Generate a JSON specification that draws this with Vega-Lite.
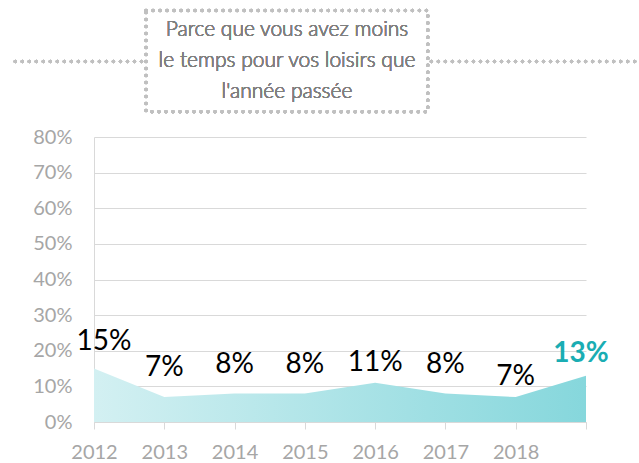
{
  "$schema": "https://vega.github.io/schema/vega-lite/v6.json",
  "autosize": "none",
  "width": 492,
  "height": 285,
  "padding": {"left": 94, "top": 137, "right": 53, "bottom": 41},
  "background": "white",
  "config": {
    "view": {"stroke": null},
    "font": "Lato",
    "axisX": {"tickCount": 7, "format": "d", "title": null, "grid": false,
      "labelExpr": "datum.value == 2019 ? '' : datum.label",
      "labelFlush": false, "labelOverlap": false,
      "labelFont": "Lato", "labelFontSize": 20, "labelColor": "#a6a6a6", "labelPadding": 13,
      "tickColor": "#d9d9d9", "tickSize": 7, "domainColor": "#d9d9d9"},
    "axisY": {"tickCount": 8, "format": ".0%", "title": null, "ticks": false,
      "gridColor": "#d9d9d9", "domainColor": "#d9d9d9", "labelOverlap": false,
      "labelFont": "Lato", "labelFontSize": 20, "labelColor": "#a6a6a6", "labelPadding": 22}
  },
  "data": {"values": [
    {"year": 2012, "value": 0.15},
    {"year": 2013, "value": 0.07},
    {"year": 2014, "value": 0.08},
    {"year": 2015, "value": 0.08},
    {"year": 2016, "value": 0.11},
    {"year": 2017, "value": 0.08},
    {"year": 2018, "value": 0.07},
    {"year": 2019, "value": 0.13}
  ]},
  "layer": [
    {
      "mark": {
        "type": "area",
        "fill": {"gradient": "linear", "x1": 0, "y1": 0, "x2": 1, "y2": 0,
          "stops": [{"offset": 0, "color": "#d3f0f2"}, {"offset": 1, "color": "#86d7dc"}]}
      },
      "encoding": {
        "x": {"field": "year", "type": "quantitative", "scale": {"domain": [2012, 2019], "nice": false, "zero": false},
          "axis": {"tickCount": 7, "format": "d", "title": null}},
        "y": {"field": "value", "type": "quantitative", "scale": {"domain": [0, 0.8], "nice": false},
          "axis": {"tickCount": 8, "format": ".0%", "title": null}}
      }
    },
    {
      "transform": [{"filter": "datum.year == 2012"}],
      "mark": {"type": "text", "font": "Lato", "fontSize": 28, "fontWeight": "normal", "color": "#000000", "dy": -27, "dx": 10},
      "encoding": {
        "x": {"field": "year", "type": "quantitative"},
        "y": {"field": "value", "type": "quantitative"},
        "text": {"field": "value", "type": "quantitative", "format": ".0%"}
      }
    },
    {
      "transform": [{"filter": "datum.year > 2012 && datum.year < 2019 && datum.year != 2016 && datum.year != 2018"}],
      "mark": {"type": "text", "font": "Lato", "fontSize": 28, "fontWeight": "normal", "color": "#000000", "dy": -29},
      "encoding": {
        "x": {"field": "year", "type": "quantitative"},
        "y": {"field": "value", "type": "quantitative"},
        "text": {"field": "value", "type": "quantitative", "format": ".0%"}
      }
    },
    {
      "transform": [{"filter": "datum.year == 2016 || datum.year == 2018"}],
      "mark": {"type": "text", "font": "Lato", "fontSize": 28, "fontWeight": "normal", "color": "#000000", "dy": -20},
      "encoding": {
        "x": {"field": "year", "type": "quantitative"},
        "y": {"field": "value", "type": "quantitative"},
        "text": {"field": "value", "type": "quantitative", "format": ".0%"}
      }
    },
    {
      "transform": [{"filter": "datum.year == 2019"}],
      "mark": {"type": "text", "font": "Lato", "fontSize": 28, "fontWeight": "bold", "color": "#1aadb3", "dy": -22, "dx": -5},
      "encoding": {
        "x": {"field": "year", "type": "quantitative"},
        "y": {"field": "value", "type": "quantitative"},
        "text": {"field": "value", "type": "quantitative", "format": ".0%"}
      }
    },
    {
      "mark": {"type": "rect", "fill": null, "stroke": "#c0c0c0", "strokeWidth": 3.5, "strokeDash": [0.01, 7], "strokeCap": "round", "clip": false},
      "encoding": {
        "x": {"datum": 2012.74, "type": "quantitative"},
        "x2": {"datum": 2016.75},
        "y": {"datum": 1.155, "type": "quantitative"},
        "y2": {"datum": 0.871}
      }
    },
    {
      "mark": {"type": "rule", "stroke": "#c0c0c0", "strokeWidth": 3.5, "strokeDash": [0.01, 7], "strokeCap": "round", "clip": false},
      "encoding": {
        "x": {"datum": 2010.88, "type": "quantitative"},
        "x2": {"datum": 2012.70},
        "y": {"datum": 1.012, "type": "quantitative"}
      }
    },
    {
      "mark": {"type": "rule", "stroke": "#c0c0c0", "strokeWidth": 3.5, "strokeDash": [0.01, 7], "strokeCap": "round", "clip": false},
      "encoding": {
        "x": {"datum": 2016.80, "type": "quantitative"},
        "x2": {"datum": 2021.2},
        "y": {"datum": 1.012, "type": "quantitative"}
      }
    },
    {
      "mark": {"type": "text", "font": "Lato", "fontSize": 21, "fontWeight": 300, "color": "#7f7f7f", "align": "center", "baseline": "middle", "lineHeight": 31, "clip": false},
      "encoding": {
        "x": {"datum": 2014.746, "type": "quantitative"},
        "y": {"datum": 1.1, "type": "quantitative"},
        "text": {"value": ["Parce que vous avez moins", "le temps pour vos loisirs que", "l'année passée"]}
      }
    }
  ]
}
